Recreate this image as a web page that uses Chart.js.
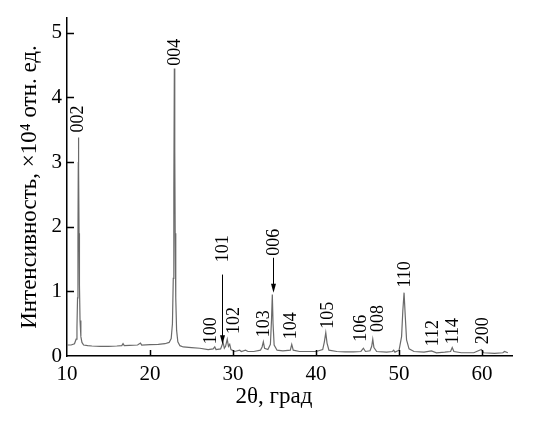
<!doctype html>
<html lang="ru">
<head>
    <meta charset="UTF-8">
    <title>XRD</title>
    <style>
        body { margin: 0; background: #fff; }
    </style>
</head>
<body>
    <canvas id="myChart" width="540" height="425"></canvas>
<script src="https://cdn.jsdelivr.net/npm/chart.js"></script>
<script>
    // 2theta, degrees
    var angles = [
        10.0, 10.5, 10.9, 11.1, 11.2, 11.27, 11.32, 11.36, 11.38, 11.41, 11.45, 11.5, 11.57, 11.67, 11.8, 12.0,
        12.5, 13, 14, 15, 16, 16.6, 16.75, 16.9, 17.5, 18.5, 18.85, 19.0, 20, 21, 21.8,
        22.3, 22.55, 22.7, 22.8, 22.87, 22.93, 22.98, 23.03, 23.1, 23.2, 23.35, 23.6,
        24, 25, 26, 27, 27.6, 27.8, 27.95, 28.5, 28.8, 28.95, 29.1, 29.3, 29.45, 29.6, 29.75,
        30.2, 30.8, 31.0, 31.5, 31.8, 32.5, 33.3, 33.5, 33.65, 33.8, 34.2,
        34.5, 34.63, 34.73, 34.82, 34.95, 35.3, 36, 36.9, 37.07, 37.25, 38, 39, 40,
        40.8, 41.0, 41.17, 41.32, 41.55, 42.5, 43.5, 44.5, 45.4, 45.7, 45.95,
        46.5, 46.7, 46.83, 46.97, 47.3, 48.5, 49.2, 49.35, 49.5,
        50.0, 50.3, 50.45, 50.6, 50.75, 50.9, 51.2, 51.8, 53, 53.9, 54.5,
        55.5, 56.2, 56.4, 56.6, 57.5, 59, 59.9, 60.2, 61.5, 62.5, 62.7, 63.1
    ];
    // intensity, x10^4
    var intensity = [
        0.17, 0.17, 0.19, 0.26, 0.45, 0.9, 1.8, 3.0, 3.38, 2.9, 1.9, 1.1, 0.55, 0.3, 0.21, 0.17,
        0.16, 0.155, 0.15, 0.15, 0.155, 0.16, 0.19, 0.16, 0.165, 0.17, 0.2, 0.17, 0.175, 0.18, 0.19,
        0.21, 0.27, 0.5, 1.2, 2.6, 4.45, 3.2, 1.9, 0.9, 0.4, 0.22, 0.16,
        0.14, 0.13, 0.12, 0.1, 0.11, 0.14, 0.1, 0.11, 0.21, 0.12, 0.15, 0.26, 0.15, 0.18, 0.1,
        0.07, 0.09, 0.07, 0.09, 0.07, 0.07, 0.09, 0.14, 0.22, 0.12, 0.1,
        0.18, 0.55, 0.95, 0.5, 0.17, 0.09, 0.08, 0.09, 0.18, 0.09, 0.07, 0.07, 0.07,
        0.1, 0.22, 0.36, 0.2, 0.09, 0.07, 0.065, 0.065, 0.07, 0.12, 0.07,
        0.08, 0.15, 0.26, 0.13, 0.07, 0.06, 0.07, 0.09, 0.06,
        0.09, 0.3, 0.7, 0.98, 0.6, 0.25, 0.11, 0.07, 0.06, 0.08, 0.05,
        0.06, 0.07, 0.13, 0.07, 0.05, 0.05, 0.1, 0.05, 0.04, 0.05, 0.07, 0.05
    ];

    var xTicks = [10, 20, 30, 40, 50, 60];
    var yTicks = [0, 1, 2, 3, 4, 5];

    // peak indices: text, 2theta, intensity at the text bottom
    var peakNames = ['002', '004', '100', '101', '102', '103', '006', '104', '105', '106', '008', '110', '112', '114', '200'];
    var peakX = [11.27, 22.9, 27.3, 28.7, 30.0, 33.6, 34.8, 36.95, 41.3, 45.3, 47.43, 50.6, 53.94, 56.35, 59.96];
    var peakY = [3.46, 4.49, 0.18, 1.45, 0.34, 0.29, 1.55, 0.26, 0.42, 0.22, 0.37, 1.06, 0.15, 0.18, 0.18];

    // arrows: 2theta, start, end
    var arrowX = [28.71, 34.86];
    var arrowFrom = [1.26, 1.52];
    var arrowTo = [0.18, 0.98];

    var points = [];
    for (var i = 0; i < angles.length; i++) {
        points.push({x: angles[i], y: intensity[i]});
    }

    var serif = '"Liberation Serif", "DejaVu Serif", serif';

    var decorations = {
        id: 'decorations',
        afterDraw: function(chart) {
            var ctx = chart.ctx;
            var xs = chart.scales.x;
            var ys = chart.scales.y;
            ctx.save();

            // inward tick marks
            ctx.strokeStyle = '#000';
            ctx.lineWidth = 1.5;
            ctx.beginPath();
            xTicks.forEach(function(v) {
                if (v === xs.min) return;
                var px = Math.round(xs.getPixelForValue(v)) + 0.5;
                ctx.moveTo(px, ys.bottom);
                ctx.lineTo(px, ys.bottom - 6);
            });
            yTicks.forEach(function(v) {
                if (v === ys.min) return;
                var py = Math.round(ys.getPixelForValue(v)) + 0.5;
                ctx.moveTo(xs.left, py);
                ctx.lineTo(xs.left + 7, py);
            });
            ctx.stroke();

            // peak labels
            ctx.fillStyle = '#000';
            ctx.font = '18px ' + serif;
            ctx.textAlign = 'left';
            ctx.textBaseline = 'middle';
            for (var i = 0; i < peakNames.length; i++) {
                ctx.save();
                ctx.translate(xs.getPixelForValue(peakX[i]), ys.getPixelForValue(peakY[i]));
                ctx.rotate(-Math.PI / 2);
                ctx.fillText(peakNames[i], 0, 1);
                ctx.restore();
            }

            // arrows
            ctx.lineWidth = 1;
            for (var j = 0; j < arrowX.length; j++) {
                var ax = Math.round(xs.getPixelForValue(arrowX[j])) + 0.5;
                var y1 = ys.getPixelForValue(arrowFrom[j]);
                var y2 = ys.getPixelForValue(arrowTo[j]);
                ctx.beginPath();
                ctx.moveTo(ax, y1);
                ctx.lineTo(ax, y2 - 6);
                ctx.stroke();
                ctx.beginPath();
                ctx.moveTo(ax - 2.5, y2 - 9);
                ctx.lineTo(ax + 2.5, y2 - 9);
                ctx.lineTo(ax, y2);
                ctx.closePath();
                ctx.fill();
            }

            // x axis title
            ctx.font = '23px ' + serif;
            ctx.textAlign = 'center';
            ctx.textBaseline = 'middle';
            ctx.fillText('2θ, град', 274, 397);
            ctx.restore();
        }
    };

    var ctx = document.getElementById('myChart').getContext('2d');
    var chart = new Chart(ctx, {
        type: 'line',
        data: {
            datasets: [{
                data: points,
                borderColor: '#6a6a6a',
                borderWidth: 1.2,
                pointRadius: 0,
                tension: 0,
                fill: false
            }]
        },
        options: {
            responsive: false,
            animation: false,
            devicePixelRatio: 1,
            layout: {
                padding: {left: 0, right: 28, top: 18, bottom: 0}
            },
            plugins: {
                legend: {display: false},
                tooltip: {enabled: false}
            },
            scales: {
                x: {
                    type: 'linear',
                    min: 10,
                    max: 63.6,
                    grid: {display: false, drawTicks: false},
                    border: {display: true, color: '#000', width: 1.5},
                    ticks: {
                        color: '#000',
                        padding: 6,
                        maxRotation: 0,
                        font: {family: serif, size: 21}
                    },
                    afterBuildTicks: function(scale) {
                        scale.ticks = xTicks.map(function(v) { return {value: v}; });
                    },
                    afterFit: function(scale) {
                        scale.height = 69;
                    }
                },
                y: {
                    min: 0,
                    max: 5.23,
                    grid: {display: false, drawTicks: false},
                    border: {display: true, color: '#000', width: 1.5},
                    ticks: {
                        color: '#000',
                        padding: 5,
                        font: {family: serif, size: 21}
                    },
                    afterBuildTicks: function(scale) {
                        scale.ticks = yTicks.map(function(v) { return {value: v}; });
                    },
                    title: {
                        display: true,
                        text: 'Интенсивность, ×10⁴ отн. ед.',
                        color: '#000',
                        padding: {top: 16, bottom: 0},
                        font: {family: serif, size: 23}
                    },
                    afterFit: function(scale) {
                        scale.width = 67;
                    }
                }
            }
        },
        plugins: [decorations]
    });
</script>
</body>
</html>
